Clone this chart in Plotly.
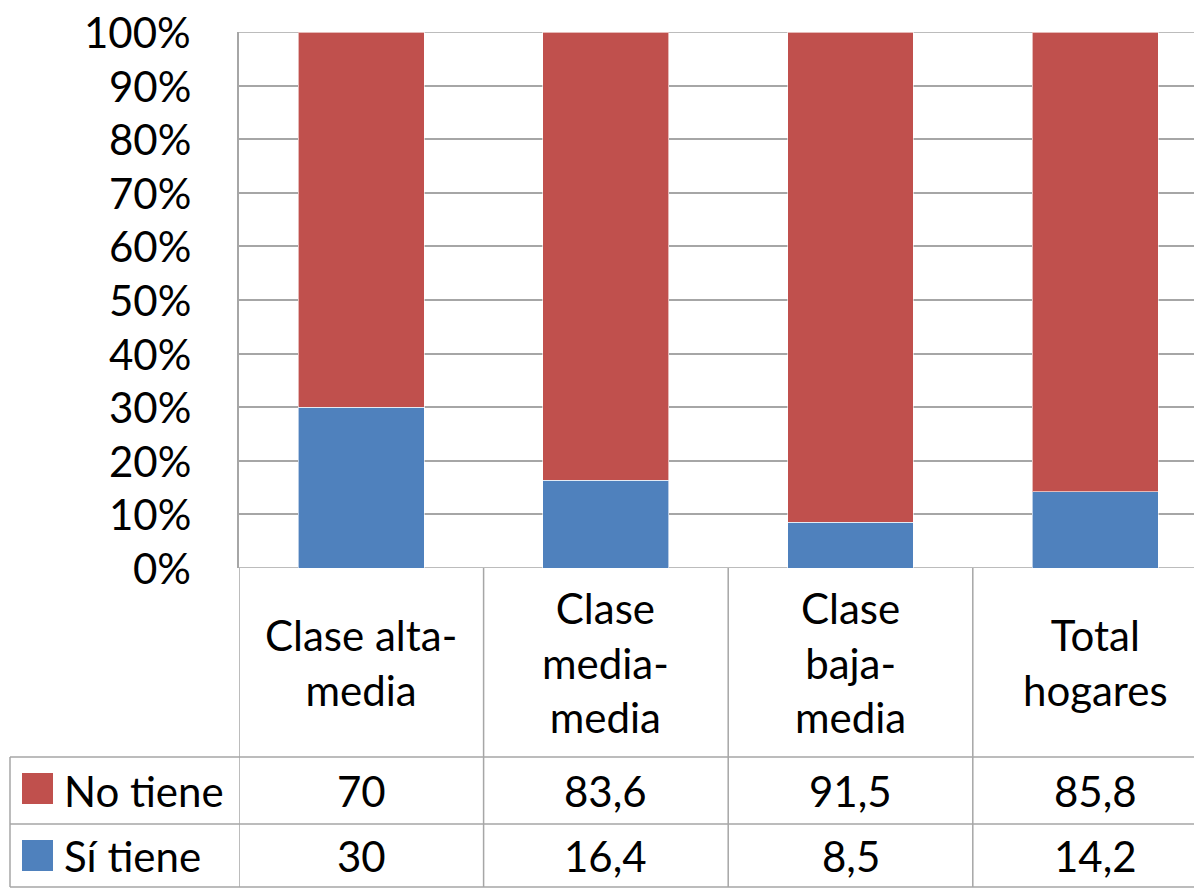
import plotly.graph_objects as go

categories = ["Clase alta-<br>media", "Clase<br>media-<br>media", "Clase<br>baja-<br>media", "Total<br>hogares"]
si_tiene = [30, 16.4, 8.5, 14.2]
no_tiene = [70, 83.6, 91.5, 85.8]
si_labels = ["30", "16,4", "8,5", "14,2"]
no_labels = ["70", "83,6", "91,5", "85,8"]
tick_vals = [0, 10, 20, 30, 40, 50, 60, 70, 80, 90, 100]
tick_text = [f"{v}%" for v in tick_vals]

RED = "#C0504D"
BLUE = "#4F81BD"
GRID = "#A6A6A6"
FONT = "Lato"
FS = 42

OFF = 8          # page body margin
LEFT_PX = 239    # plot left edge in page pixels
TOP_PX = 32
BOT_PX = 568
CAT_PX = 244.6   # category width in page pixels (plot runs past the right edge)
W, H = 1202 - OFF, 888 - OFF
L, R, T, B = LEFT_PX - OFF, 0, TOP_PX - OFF, 888 - BOT_PX
ph = H - T - B
pw = W - L - R
x_max = -0.5 + pw / CAT_PX

def py(pix):  # page pixel y -> paper y
    return (BOT_PX - pix) / ph

def px(pix):  # page pixel x -> paper x
    return (pix - LEFT_PX) / pw

fig = go.Figure()
fig.add_trace(go.Bar(x=list(range(len(categories))), y=si_tiene, name="Sí tiene",
                     marker=dict(color=BLUE, line=dict(color="rgba(255,255,255,0.6)", width=1))))
fig.add_trace(go.Bar(x=list(range(len(categories))), y=no_tiene, name="No tiene",
                     marker=dict(color=RED, line=dict(color="rgba(255,255,255,0.6)", width=1))))

shapes = []
line = dict(color=GRID, width=1.5)
for yv in (0, 100):
    shapes.append(dict(type="line", xref="paper", yref="y", x0=0, x1=1, y0=yv, y1=yv, line=line, layer="below"))
y_top_table = py(568)
y_r1 = py(757)
y_r2 = py(824)
y_bot = py(887)
x_left = px(10)
n = len(categories)
for k in range(n):
    xv = k - 0.5
    shapes.append(dict(type="line", xref="x", yref="paper", x0=xv, x1=xv, y0=y_top_table, y1=y_bot, line=line))
shapes.append(dict(type="line", xref="paper", yref="paper", x0=x_left, x1=x_left, y0=y_r1, y1=y_bot, line=line))
for yy in (y_r1, y_r2, y_bot):
    shapes.append(dict(type="line", xref="paper", yref="paper", x0=x_left, x1=1, y0=yy, y1=yy, line=line))
for (y0p, y1p, col) in ((804, 773, RED), (871, 840, BLUE)):
    shapes.append(dict(type="rect", xref="paper", yref="paper", x0=px(22), x1=px(53),
                       y0=py(y0p), y1=py(y1p), fillcolor=col, line=dict(width=0)))

ann = []
font = dict(family=FONT, size=FS, color="black")
for v, t in zip(tick_vals, tick_text):
    ann.append(dict(x=px(193), y=v, xref="paper", yref="y", text=t, showarrow=False,
                    font=font, xanchor="right", yanchor="middle"))
yc_head = py((568 + 757) / 2)
for i, c in enumerate(categories):
    ann.append(dict(x=i, y=yc_head, xref="x", yref="paper", text=c, showarrow=False,
                    font=font, xanchor="center", yanchor="middle", align="center"))
yc1 = py((757 + 824) / 2)
yc2 = py((824 + 887) / 2)
for i in range(n):
    ann.append(dict(x=i, y=yc1, xref="x", yref="paper", text=no_labels[i], showarrow=False,
                    font=font, xanchor="center", yanchor="middle"))
    ann.append(dict(x=i, y=yc2, xref="x", yref="paper", text=si_labels[i], showarrow=False,
                    font=font, xanchor="center", yanchor="middle"))
ann.append(dict(x=px(62), y=yc1, xref="paper", yref="paper", text="No tiene", showarrow=False,
                font=font, xanchor="left", yanchor="middle"))
ann.append(dict(x=px(62), y=yc2, xref="paper", yref="paper", text="Sí tiene", showarrow=False,
                font=font, xanchor="left", yanchor="middle"))

fig.update_layout(
    width=W, height=H,
    margin=dict(l=L, r=R, t=T, b=B, pad=0, autoexpand=False),
    barmode="stack", bargap=0.485,
    plot_bgcolor="white", paper_bgcolor="white",
    showlegend=False,
    font=dict(family=FONT, size=FS, color="black"),
    xaxis=dict(range=[-0.5, x_max], showticklabels=False, showgrid=False, zeroline=False,
               showline=False, ticks=""),
    yaxis=dict(range=[0, 100], tickvals=tick_vals, showticklabels=False, showgrid=True,
               gridcolor=GRID, gridwidth=1.5, zeroline=False, showline=True, linecolor=GRID,
               linewidth=1.5, ticks=""),
    shapes=shapes, annotations=ann,
)
fig.write_html("out.html")
